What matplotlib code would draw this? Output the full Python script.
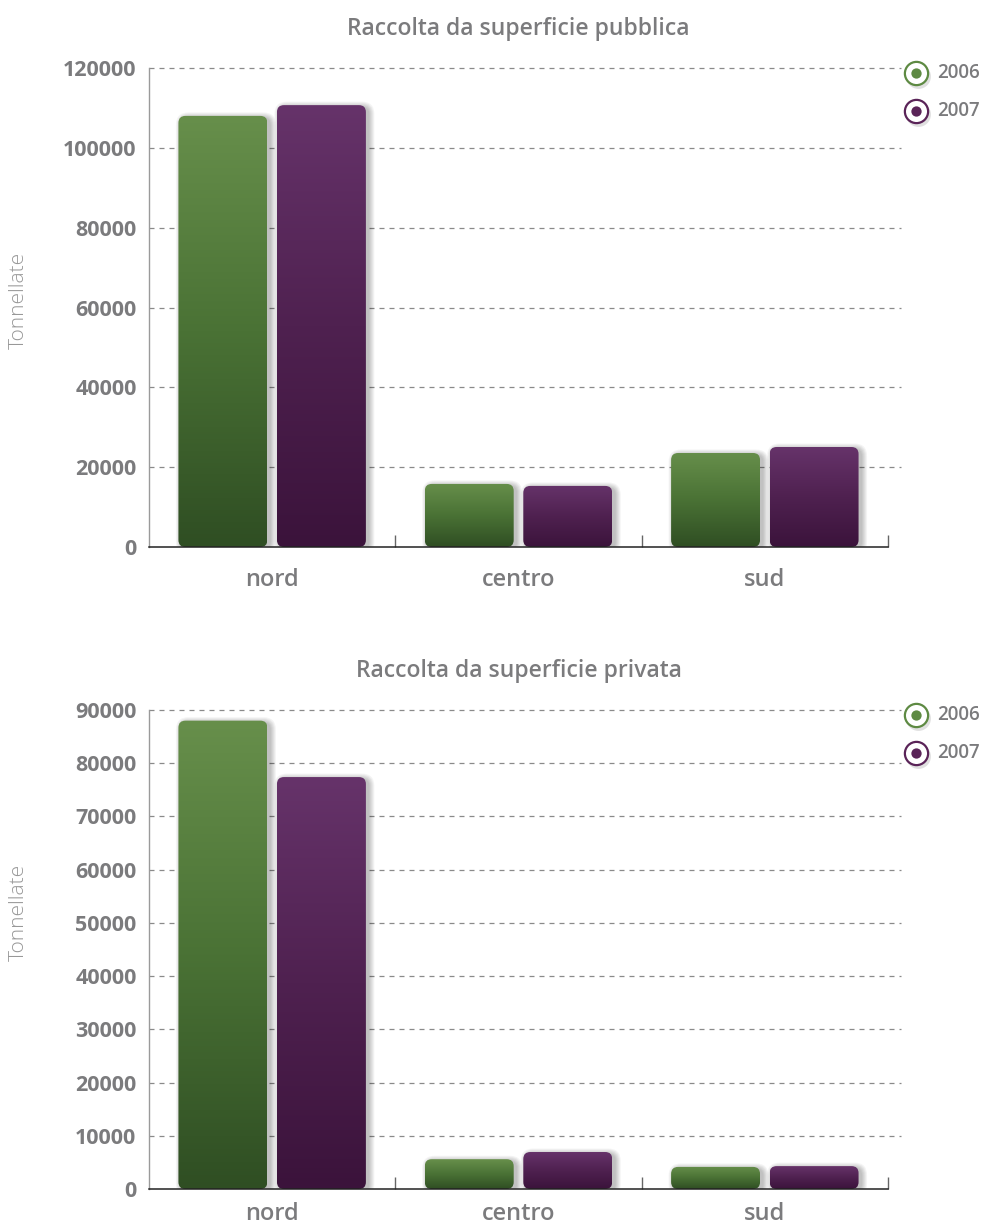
import numpy as np
import matplotlib
matplotlib.use("Agg")
import matplotlib.pyplot as plt
from matplotlib.patches import FancyBboxPatch
from matplotlib.colors import LinearSegmentedColormap
import matplotlib.transforms as mtransforms

# ---- data -------------------------------------------------------------
regions = ["nord", "centro", "sud"]
years = ["2006", "2007"]

pubblica_2006 = [108000, 15800, 23550]
pubblica_2007 = [110700, 15300, 25050]
privata_2006 = [88000, 5600, 4150]
privata_2007 = [77400, 6950, 4300]

pubblica_ticks = [0, 20000, 40000, 60000, 80000, 100000, 120000]
privata_ticks = [0, 10000, 20000, 30000, 40000, 50000, 60000, 70000, 80000, 90000]

titles = ["Raccolta da superficie pubblica", "Raccolta da superficie privata"]
ylabel = "Tonnellate"

# ---- style ------------------------------------------------------------
W, H = 988, 1230
FONT = ["Open Sans", "DejaVu Sans"]
TXT = "#7b7b7d"
green_cmap = LinearSegmentedColormap.from_list("g", ["#2f4e23", "#4a7235", "#678f4b"])
purple_cmap = LinearSegmentedColormap.from_list("p", ["#3b133b", "#4f2150", "#66336a"])
legend_cols = {"2006": ("#5e8a43", "#5e8a43"), "2007": ("#5a2458", "#5a2458")}

plt.rcParams["font.family"] = FONT

fig = plt.figure(figsize=(W / 100, H / 100), dpi=100)


def px_axes(left, top, right, bottom):
    return fig.add_axes([left / W, 1 - bottom / H, (right - left) / W, (bottom - top) / H])


def draw_panel(ax, vals06, vals07, ticks, title, ylab_y, xpad):
    ymax = ticks[-1]
    ax.set_xlim(0, 3)
    ax.set_ylim(0, ymax)
    centers = np.arange(len(regions)) + 0.5
    bw = 0.361
    off = 0.2

    bb = ax.get_window_extent()
    px_x = bb.width / 3.0
    px_y = bb.height / ymax
    asp = (1 / px_y) / (1 / px_x)
    r = 7.0 / px_x

    for vals, cmap, sign in [(vals06, green_cmap, -1), (vals07, purple_cmap, 1)]:
        bars = ax.bar(centers + sign * off, vals, width=bw, color="none",
                      edgecolor="none", zorder=2)
        for rect in bars:
            x0, w, h = rect.get_x(), rect.get_width(), rect.get_height()
            # soft drop shadow
            shadow_tr = ax.transData + mtransforms.ScaledTranslation(
                3 / 100, -2 / 100, fig.dpi_scale_trans)
            for k in range(6):
                pad = (k + 0.5) / px_x
                sh = FancyBboxPatch((x0, 0), w, h,
                                    boxstyle=f"round,pad={pad},rounding_size={r + pad}",
                                    mutation_aspect=asp, facecolor="black",
                                    edgecolor="none", alpha=0.045,
                                    transform=shadow_tr, zorder=1.5)
                ax.add_patch(sh)
            patch = FancyBboxPatch((x0, 0), w, h,
                                   boxstyle=f"round,pad=0,rounding_size={r}",
                                   mutation_aspect=asp, facecolor="none",
                                   edgecolor="none", zorder=2)
            ax.add_patch(patch)
            grad = np.linspace(0, 1, 256).reshape(-1, 1)
            im = ax.imshow(grad, cmap=cmap, extent=(x0, x0 + w, 0, h),
                           origin="lower", aspect="auto", zorder=2.1)
            im.set_clip_path(patch)

    ax.set_xlim(0, 3)
    ax.set_ylim(0, ymax)

    # dashed gridlines reaching slightly past the plot
    tr = mtransforms.blended_transform_factory(ax.transAxes, ax.transData)
    for t in ticks[1:]:
        ax.plot([0, 1.018], [t, t], transform=tr, color="#8a8a8a", lw=0.9,
                ls=(0, (4, 4)), clip_on=False, zorder=0.5)

    for s in ["top", "right"]:
        ax.spines[s].set_visible(False)
    ax.spines["left"].set_color("#9a9a9a")
    ax.spines["left"].set_linewidth(1.0)
    ax.spines["bottom"].set_color("#222222")
    ax.spines["bottom"].set_linewidth(1.1)

    ax.set_yticks(ticks)
    ax.set_yticklabels([str(t) for t in ticks], fontsize=15.5, fontweight="bold", color=TXT)
    ax.tick_params(axis="y", length=0, pad=9)

    ax.set_xticks(centers)
    ax.set_xticklabels(regions, fontsize=17, fontweight="semibold", color=TXT)
    ax.tick_params(axis="x", which="major", length=0, pad=xpad)
    ax.set_xticks([1, 2, 3], minor=True)
    ax.tick_params(axis="x", which="minor", direction="in", length=9,
                   color="#666666", width=1)

    ax.set_title(title, fontsize=16.5, fontweight="semibold", color=TXT, pad=24)

    fig.text(19 / W, 1 - ylab_y / H, ylabel, rotation=90, ha="center", va="center",
             fontsize=15, fontweight="light", color="#989898")

    # legend
    for yv, year in [(0.99, "2006"), (0.91, "2007")]:
        edge, dot = legend_cols[year]
        ax.scatter([1.041], [yv - 0.006], s=320, color="black", alpha=0.12,
                   transform=ax.transAxes, clip_on=False, zorder=5, linewidths=0)
        ax.scatter([1.038], [yv], s=280, facecolor="white", edgecolor=edge,
                   linewidths=1.6, transform=ax.transAxes, clip_on=False, zorder=6)
        ax.scatter([1.038], [yv], s=55, color=dot, transform=ax.transAxes,
                   clip_on=False, zorder=7, linewidths=0)
        ax.text(1.066, yv, year, transform=ax.transAxes, fontsize=13.5,
                fontweight="semibold", color=TXT, va="center", ha="left")


ax1 = px_axes(149, 68, 888, 547)
draw_panel(ax1, pubblica_2006, pubblica_2007, pubblica_ticks, titles[0], 300, 15)

ax2 = px_axes(149, 710, 888, 1189)
draw_panel(ax2, privata_2006, privata_2007, privata_ticks, titles[1], 912, 9)

fig.savefig("out.png", dpi=100)
